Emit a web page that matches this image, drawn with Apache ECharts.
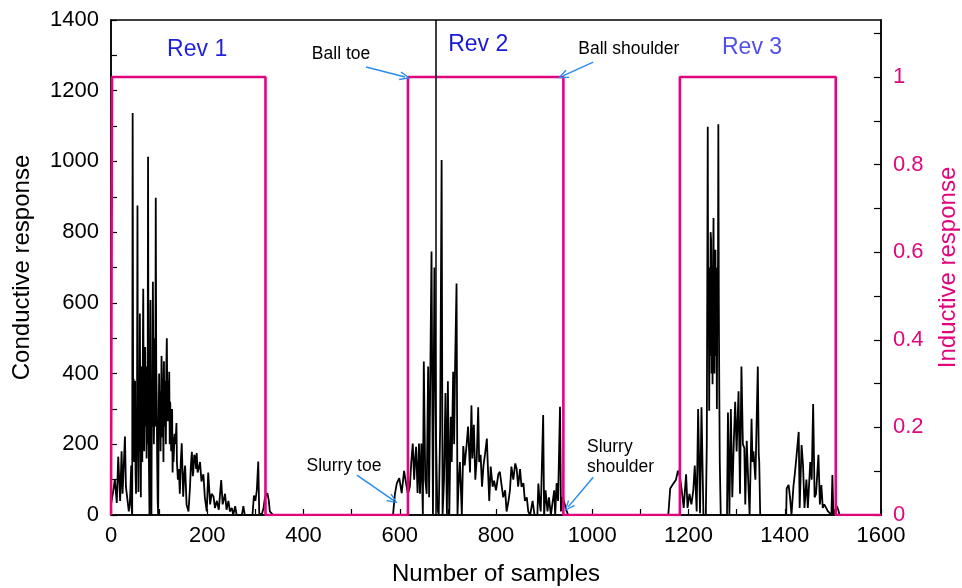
<!DOCTYPE html>
<html><head><meta charset="utf-8">
<script src="https://cdn.jsdelivr.net/npm/echarts@6/dist/echarts.min.js"></script>
<style>html,body{margin:0;padding:0;background:#fff}#c{width:962px;height:588px}</style>
</head><body><div id="c"></div>
<script>
// Conductive response: [sample, value]
var conductive = [
[0,30],[4,62],[8,100],[12,34],[15,165],[19,40],[22,180],[24,60],[29,222],[31,80],[34,75],[37,10],[39,30],[40,60],[42,140],[43,20],[44,0],[45,1137],[46,300],[47,385],[48,150],[49,215],[50,380],[51,120],[52,60],[53,300],[54,250],[55,875],[56,200],[57,65],[58,350],[59,180],[60,570],[61,240],[62,50],[63,420],[64,340],[65,150],[66,420],[67,640],[68,280],[69,180],[70,360],[71,475],[72,250],[73,420],[74,160],[75,330],[76,200],[77,1013],[78,300],[79,120],[80,0],[81,360],[82,608],[83,200],[84,0],[85,380],[86,250],[87,660],[88,420],[89,200],[90,300],[91,500],[92,250],[93,897],[94,420],[95,330],[96,150],[97,40],[98,0],[99,250],[100,400],[101,250],[102,350],[103,180],[104,300],[105,450],[106,385],[107,220],[108,300],[109,150],[110,435],[111,250],[112,380],[113,330],[114,200],[115,420],[116,500],[117,330],[118,265],[119,380],[120,300],[121,405],[122,200],[123,320],[124,265],[125,180],[126,250],[127,300],[128,120],[129,220],[130,150],[132,230],[134,200],[136,260],[137,150],[139,100],[141,130],[143,60],[145,150],[147,203],[150,52],[152,110],[154,140],[157,30],[161,10],[164,75],[166,140],[168,179],[170,110],[171,120],[173,170],[175,163],[177,130],[178,175],[180,120],[182,131],[185,150],[188,95],[192,115],[195,50],[199,10],[202,120],[206,30],[209,60],[213,52],[216,20],[220,40],[224,15],[229,99],[232,30],[237,60],[240,15],[244,40],[247,10],[251,20],[254,0],[258,25],[261,0],[272,0],[275,25],[278,0],[294,0],[297,55],[300,40],[303,70],[306,151],[308,5],[313,0],[317,20],[320,50],[325,62],[328,40],[330,10],[334,12],[337,0],
[586,0],[590,60],[594,90],[599,104],[604,62],[609,125],[613,90],[617,60],[621,80],[624,150],[627,202],[630,100],[632,160],[634,193],[637,62],[640,202],[642,60],[645,202],[648,0],[650,434],[653,100],[656,60],[659,420],[661,50],[663,325],[666,745],[669,0],[672,700],[675,250],[678,20],[681,0],[684,250],[687,1004],[689,0],[692,100],[695,345],[698,0],[700,378],[703,0],[706,278],[708,150],[711,405],[713,200],[715,420],[718,655],[720,0],[722,80],[725,150],[729,0],[732,195],[735,140],[739,200],[742,250],[746,120],[749,310],[751,160],[754,255],[757,100],[760,160],[763,305],[765,150],[768,170],[771,80],[774,140],[777,170],[781,216],[783,140],[786,40],[789,137],[793,80],[796,97],[800,70],[805,116],[808,122],[812,80],[815,50],[819,70],[822,10],[826,40],[829,70],[832,137],[836,100],[840,146],[843,130],[846,80],[850,130],[853,80],[857,90],[860,40],[864,50],[867,10],[871,0],[876,40],[880,0],[886,0],[888,89],[891,30],[893,10],[898,283],[900,0],[903,70],[907,10],[910,50],[914,0],[918,40],[921,70],[923,0],[926,90],[929,40],[933,306],[935,10],[938,50],[943,30],[947,10],[950,0],
[1158,0],[1162,75],[1168,88],[1174,100],[1178,125],[1182,110],[1186,70],[1190,20],[1195,115],[1198,20],[1202,60],[1206,30],[1210,70],[1213,140],[1217,10],[1220,300],[1224,5],[1227,305],[1231,0],[1236,0],[1238,200],[1240,1098],[1241,500],[1242,700],[1243,295],[1244,600],[1245,450],[1246,800],[1247,777],[1248,400],[1249,650],[1250,370],[1251,700],[1252,840],[1253,500],[1254,400],[1255,700],[1256,750],[1257,450],[1258,600],[1259,300],[1260,700],[1261,550],[1262,1105],[1263,600],[1264,340],[1265,150],[1267,0],[1280,0],[1282,290],[1285,0],[1288,300],[1291,50],[1294,200],[1297,320],[1300,180],[1304,350],[1307,60],[1310,420],[1313,200],[1316,190],[1318,30],[1321,210],[1324,100],[1327,0],[1331,272],[1333,150],[1335,180],[1339,100],[1344,420],[1346,170],[1347,150],[1349,0],
[1403,0],[1404,75],[1408,85],[1411,50],[1414,0],[1418,80],[1421,117],[1424,160],[1429,235],[1431,20],[1435,198],[1438,140],[1441,20],[1445,100],[1448,20],[1453,150],[1456,100],[1459,314],[1462,50],[1465,60],[1470,170],[1473,30],[1476,85],[1479,20],[1482,30],[1486,20],[1490,10],[1494,5],[1497,0],[1499,113],[1501,0],[1508,25],[1511,15],[1514,0],[1600,0]
];
// Inductive response (0/1 steps): [sample, value]
var inductive = [
[0,0],[2,0],[2,1],[321,1],[321,0],[617,0],[617,1],[940,1],[940,0],[1182,0],[1182,1],[1506,1],[1506,0],[1600,0]
];
var revLabels = [['Rev 1',179,1315,'#1F1FE0'],['Rev 2',763,1329,'#1818D8'],['Rev 3',1332,1321,'#5050E8']];
var notes = [['Ball toe',478,1304],['Ball shoulder',1076,1318],['Slurry toe',484,139]];
var arrows = [[[530,1267],[611,1239]],[[1002,1281],[939,1242]],[[511,113],[586,42]],[[1002,107],[950,23]]];
var markerSample = 675;

var FONT = 'Liberation Sans';
var PINK = '#E0077D';
var ARROW = '#2A8CF0';
var head = 'path://M0,10 L5,0 L10,10 L8.6,10.8 L5,2.8 L1.4,10.8 Z';

var mpData = revLabels.map(function(r){
  return {coord:[r[1],r[2]], label:{formatter:r[0], color:r[3], fontSize:23}};
}).concat(notes.map(function(n){
  return {coord:[n[1],n[2]], label:{formatter:n[0], color:'#000', fontSize:17.5}};
}));
mpData.push({coord:[989,164], label:{formatter:'Slurry\nshoulder', color:'#000', fontSize:17.5, align:'left', lineHeight:20}});

var mlData = arrows.map(function(a){ return [{coord:a[0]},{coord:a[1]}]; });

var chart = echarts.init(document.getElementById('c'));
chart.setOption({
  animation:false,
  textStyle:{fontFamily:FONT},
  grid:{left:111,right:81,top:20,bottom:73,outerBoundsMode:'none',containLabel:false,show:true,borderColor:'#000',borderWidth:1.5,backgroundColor:'transparent'},
  xAxis:{type:'value',min:0,max:1600,interval:100,
    name:'Number of samples',nameLocation:'middle',nameGap:47,
    nameTextStyle:{fontSize:24,color:'#000',fontFamily:FONT},
    axisLine:{lineStyle:{color:'#000',width:1.5}},
    axisTick:{inside:true,length:6,lineStyle:{color:'#000',width:1.2}},
    axisLabel:{fontSize:22,color:'#000',margin:10,fontFamily:FONT,formatter:function(v){return v%200===0?String(v):'';}},
    splitLine:{show:false}},
  yAxis:[
    {type:'value',min:0,max:1400,interval:100,position:'left',
     name:'Conductive response',nameLocation:'middle',nameGap:77,nameRotate:90,
     nameTextStyle:{fontSize:24,color:'#000',fontFamily:FONT},
     axisLine:{show:true,lineStyle:{color:'#000',width:1.5}},
     axisTick:{show:true,inside:true,length:6,lineStyle:{color:'#000',width:1.2}},
     axisLabel:{fontSize:22,color:'#000',margin:12,fontFamily:FONT,formatter:function(v){return v%200===0?String(v):'';}},
     splitLine:{show:false}},
    {type:'value',min:0,max:1.13,interval:0.1,position:'right',
     name:'Inductive response',nameLocation:'middle',nameGap:55,nameRotate:90,
     nameTextStyle:{fontSize:24,color:PINK,fontFamily:FONT},
     axisLine:{show:true,lineStyle:{color:'#000',width:1.5}},
     axisTick:{show:true,inside:true,length:7,lineStyle:{color:'#000',width:1.2}},
     axisLabel:{fontSize:22,color:PINK,margin:12,fontFamily:FONT,showMaxLabel:false,
       formatter:function(v){var t=Math.round(v*10);return (t%2===0&&Math.abs(v*10-t)<1e-6)?String(t/10):'';}},
     splitLine:{show:false}}
  ],
  series:[
    {type:'line',name:'Conductive',yAxisIndex:0,data:conductive,showSymbol:false,symbol:'none',
     lineStyle:{color:'#000',width:1.8},itemStyle:{color:'#000'},z:2,silent:true,
     markPoint:{symbol:'circle',symbolSize:0,silent:true,
       label:{show:true,position:'inside',fontFamily:FONT},data:mpData},
     markLine:{silent:true,symbol:['none',head],symbolSize:[9,11],
       label:{show:false},lineStyle:{color:ARROW,width:1.5,type:'solid'},data:mlData}},
    {type:'line',name:'Inductive',yAxisIndex:1,data:inductive,showSymbol:false,symbol:'none',
     lineStyle:{color:PINK,width:2.6},itemStyle:{color:PINK},z:3,silent:true,
     markLine:{silent:true,symbol:['none','none'],label:{show:false},
       lineStyle:{color:'#000',width:1.5,type:'solid'},data:[{xAxis:markerSample}]}}
  ]
});
</script></body></html>
